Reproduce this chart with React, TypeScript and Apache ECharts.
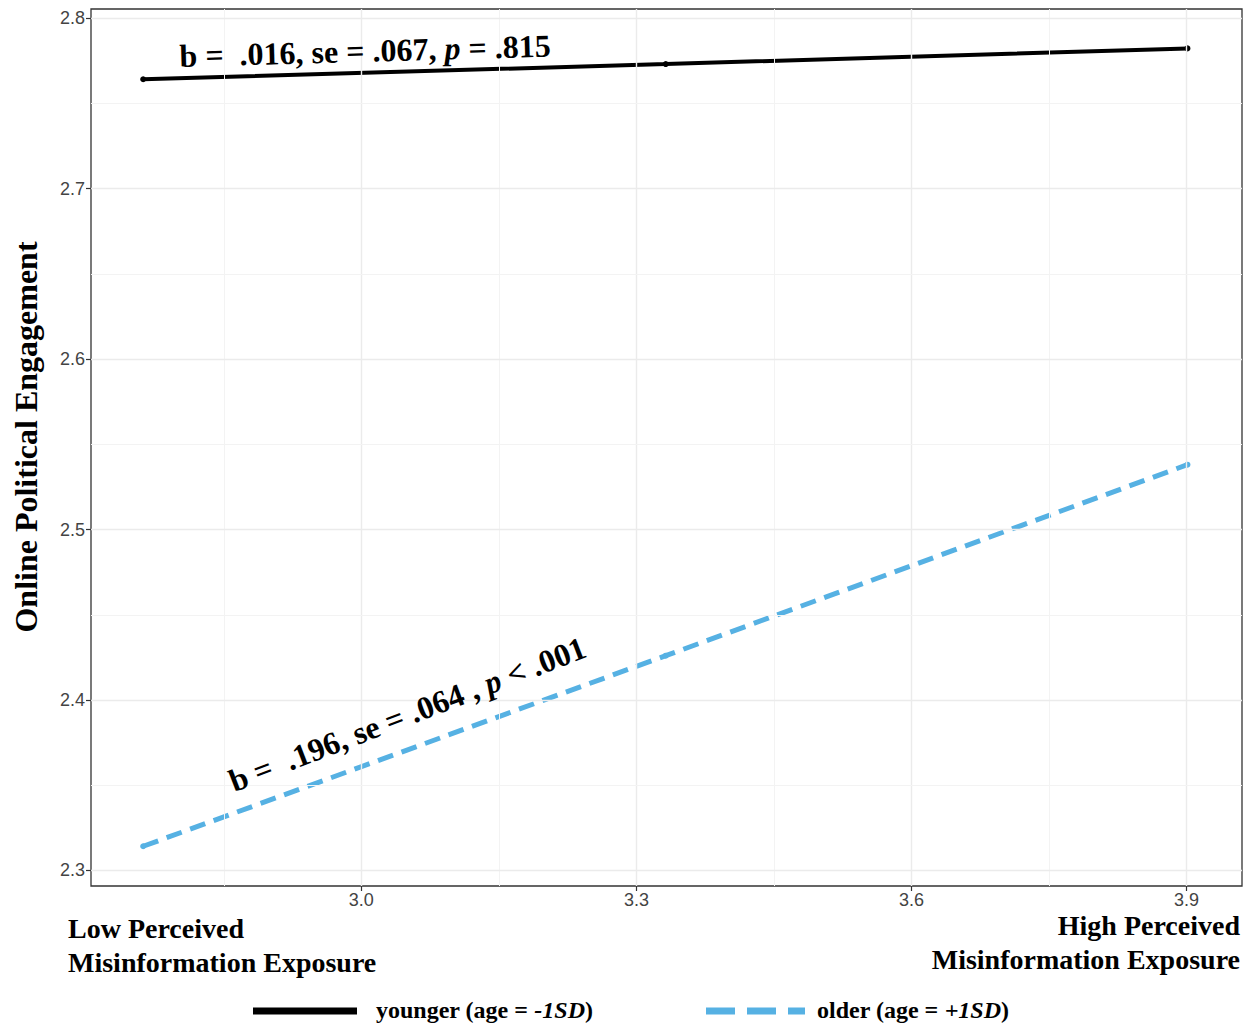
import React, { useEffect, useRef } from "react";
import * as echarts from "echarts";

const xTicks = [3.0, 3.3, 3.6, 3.9];
const xMinorTicks = [2.85, 3.15, 3.45, 3.75];
const yTicks = [2.3, 2.4, 2.5, 2.6, 2.7, 2.8];
const yMinorTicks = [2.35, 2.45, 2.55, 2.65, 2.75];

const exposure = [2.762, 3.332, 3.901];
const younger = [2.7641, 2.773, 2.7822];
const older = [2.3142, 2.426, 2.538];

const serif = "'Liberation Serif', 'DejaVu Serif', serif";
const sans = "'Liberation Sans', Arial, sans-serif";

function richText(size: number) {
  return {
    n: { fontFamily: serif, fontWeight: "bold", fontSize: size, fill: "#000" },
    i: { fontFamily: serif, fontWeight: "bold", fontStyle: "italic", fontSize: size, fill: "#000" },
  };
}

export default function App() {
  const ref = useRef<HTMLDivElement>(null);
  useEffect(() => {
    const chart = echarts.init(ref.current!, null, { renderer: "svg" });
    const gridLines = [
      ...xTicks.map((v) => ({ xAxis: v, lineStyle: { color: "#ebebeb", width: 1.4, type: "solid" } })),
      ...xMinorTicks.map((v) => ({ xAxis: v, lineStyle: { color: "#f3f3f3", width: 1, type: "solid" } })),
      ...yTicks.map((v) => ({ yAxis: v, lineStyle: { color: "#ebebeb", width: 1.4, type: "solid" } })),
      ...yMinorTicks.map((v) => ({ yAxis: v, lineStyle: { color: "#f3f3f3", width: 1, type: "solid" } })),
    ];
    const option: any = {
      animation: false,
      backgroundColor: "#ffffff",
      grid: {
        left: 91,
        top: 9,
        right: 11,
        bottom: 138,
        show: true,
        borderColor: "#333333",
        borderWidth: 1.3,
        backgroundColor: "#ffffff",
      },
      xAxis: {
        type: "value",
        min: 2.7051,
        max: 3.9605,
        axisLine: { show: false },
        splitLine: { show: false },
        axisTick: { show: true, length: 5, lineStyle: { color: "#333333", width: 1.2 }, customValues: xTicks },
        axisLabel: {
          customValues: xTicks,
          formatter: (v: number) => v.toFixed(1),
          color: "#444444",
          fontSize: 18,
          fontFamily: sans,
          margin: 5,
        },
      },
      yAxis: {
        type: "value",
        min: 2.2909,
        max: 2.8053,
        axisLine: { show: false },
        splitLine: { show: false },
        axisTick: { show: true, length: 5, lineStyle: { color: "#333333", width: 1.2 }, customValues: yTicks },
        axisLabel: {
          customValues: yTicks,
          formatter: (v: number) => v.toFixed(1),
          color: "#444444",
          fontSize: 18,
          fontFamily: sans,
          margin: 6,
        },
      },
      series: [
        {
          type: "line",
          name: "grid",
          data: [],
          z: 1,
          silent: true,
          markLine: {
            silent: true,
            symbol: "none",
            label: { show: false },
            data: gridLines,
          },
        },
        {
          type: "line",
          name: "younger (age = -1SD)",
          z: 3,
          data: exposure.map((x, i) => [x, younger[i]]),
          lineStyle: { color: "#000000", width: 4 },
          itemStyle: { color: "#000000" },
          symbol: "circle",
          symbolSize: 6,
        },
        {
          type: "line",
          name: "older (age = +1SD)",
          z: 3,
          data: exposure.map((x, i) => [x, older[i]]),
          lineStyle: { color: "#56b1e3", width: 5, type: [16, 9] },
          itemStyle: { color: "#56b1e3" },
          symbol: "circle",
          symbolSize: 6,
        },
      ],
      graphic: [
        {
          type: "text",
          z: 100,
          x: 26,
          y: 437,
          rotation: Math.PI / 2,
          style: {
            text: "Online Political Engagement",
            fontFamily: serif,
            fontWeight: "bold",
            fontSize: 32,
            fill: "#000",
            align: "center",
            verticalAlign: "middle",
          },
        },
        {
          type: "text",
          z: 100,
          x: 180,
          y: 72,
          rotation: 0.028,
          style: {
            text: "{n|b =  .016, se = .067, }{i|p}{n| = .815}",
            fontFamily: serif,
            fontWeight: "bold",
            fontSize: 32,
            fill: "#000",
            align: "left",
            verticalAlign: "bottom",
            rich: richText(32),
          },
        },
        {
          type: "text",
          z: 100,
          x: 236,
          y: 797,
          rotation: 0.366,
          style: {
            text: "{n|b =  .196, se = .064 , }{i|p}{n| < .001}",
            fontFamily: serif,
            fontWeight: "bold",
            fontSize: 32,
            fill: "#000",
            align: "left",
            verticalAlign: "bottom",
            rich: richText(32),
          },
        },
        {
          type: "text",
          z: 100,
          x: 68,
          y: 945,
          style: {
            text: "Low Perceived\nMisinformation Exposure",
            fontFamily: serif,
            fontWeight: "bold",
            fontSize: 28,
            lineHeight: 34,
            fill: "#000",
            align: "left",
            verticalAlign: "middle",
          },
        },
        {
          type: "text",
          z: 100,
          x: 1240,
          y: 942,
          style: {
            text: "High Perceived\nMisinformation Exposure",
            fontFamily: serif,
            fontWeight: "bold",
            fontSize: 28,
            lineHeight: 34,
            fill: "#000",
            align: "right",
            verticalAlign: "middle",
          },
        },
        {
          type: "line",
          z: 100,
          shape: { x1: 253, y1: 1011, x2: 357, y2: 1011 },
          style: { stroke: "#000", lineWidth: 7 },
        },
        {
          type: "text",
          z: 100,
          x: 376,
          y: 1010,
          style: {
            text: "{n|younger (age = }{i|-1SD}{n|)}",
            fontFamily: serif,
            fontWeight: "bold",
            fontSize: 24,
            fill: "#000",
            align: "left",
            verticalAlign: "middle",
            rich: richText(24),
          },
        },
        {
          type: "line",
          z: 100,
          shape: { x1: 706, y1: 1011, x2: 805, y2: 1011 },
          style: { stroke: "#56b1e3", lineWidth: 7, lineDash: [29, 12] },
        },
        {
          type: "text",
          z: 100,
          x: 817,
          y: 1010,
          style: {
            text: "{n|older (age = }{i|+1SD}{n|)}",
            fontFamily: serif,
            fontWeight: "bold",
            fontSize: 24,
            fill: "#000",
            align: "left",
            verticalAlign: "middle",
            rich: richText(24),
          },
        },
      ],
    };
    chart.setOption(option);
    return () => chart.dispose();
  }, []);
  return (
    <div
      ref={ref}
      style={{ position: "fixed", left: 0, top: 0, width: 1253, height: 1024, overflow: "hidden" }}
    />
  );
}
